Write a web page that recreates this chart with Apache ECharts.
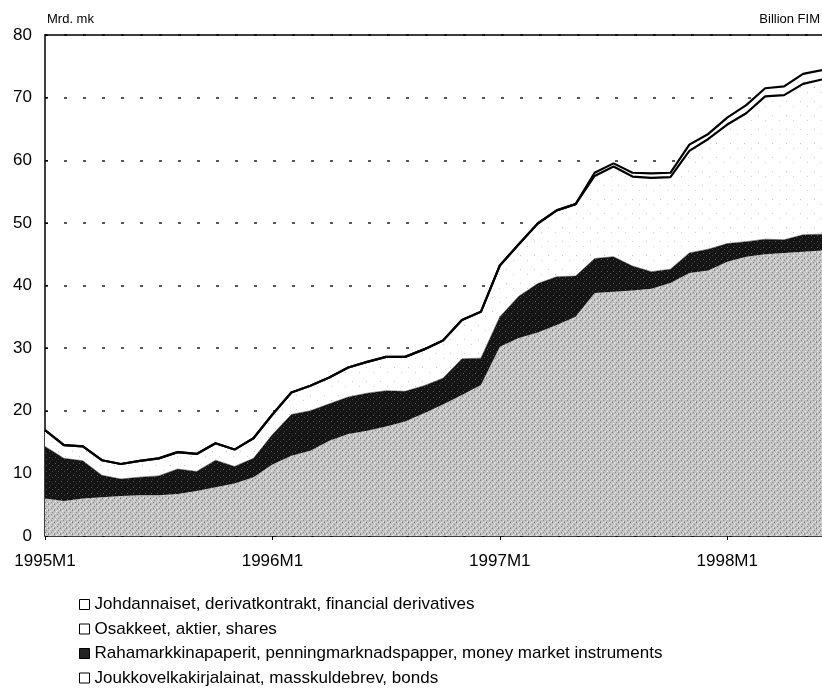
<!DOCTYPE html>
<html>
<head>
<meta charset="utf-8">
<script src="https://cdn.jsdelivr.net/npm/echarts@6/dist/echarts.min.js"></script>
<style>
html, body { margin: 0; padding: 0; background: #fff; }
#chart { width: 822px; height: 688px; }
</style>
</head>
<body>
<div id="chart"></div>
<script>
// monthly categories 1995M1 .. 1998M6
const months = [];
for (let y = 1995; y <= 1998; y++) {
  for (let m = 1; m <= 12; m++) months.push(y + 'M' + m);
}
months.length = 42;

// Mrd. mk, stacked from the bottom
const bonds = [
  6.0, 5.6, 6.0, 6.2, 6.4, 6.5, 6.5, 6.7, 7.2, 7.8, 8.4, 9.4,
  11.4, 12.8, 13.6, 15.2, 16.3, 16.8, 17.5, 18.3, 19.6, 21.0, 22.5, 24.1,
  30.2, 31.6, 32.5, 33.7, 35.0, 38.8, 39.0, 39.2, 39.5, 40.4, 42.0, 42.4,
  43.8, 44.6, 45.0, 45.2, 45.4, 45.6
];
const moneyMarket = [
  8.3, 6.8, 6.0, 3.5, 2.7, 2.9, 3.1, 4.0, 3.1, 4.3, 2.7, 3.0,
  4.8, 6.6, 6.4, 5.9, 5.9, 6.0, 5.7, 4.8, 4.4, 4.2, 5.8, 4.3,
  4.8, 6.7, 7.8, 7.7, 6.5, 5.5, 5.6, 3.9, 2.7, 2.2, 3.2, 3.4,
  2.9, 2.4, 2.4, 2.1, 2.7, 2.6
];
const shares = [
  2.6, 2.1, 2.3, 2.4, 2.4, 2.6, 2.8, 2.7, 2.8, 2.7, 2.7, 3.2,
  3.2, 3.5, 4.0, 4.2, 4.7, 5.0, 5.4, 5.5, 5.8, 6.0, 6.2, 7.4,
  8.2, 8.3, 9.6, 10.6, 11.5, 13.2, 14.4, 14.3, 15.0, 14.7, 16.3, 17.6,
  19.0, 20.5, 22.8, 23.1, 24.1, 24.7
];
const derivatives = [
  0, 0, 0, 0, 0, 0, 0, 0, 0, 0, 0, 0,
  0, 0, 0, 0, 0, 0, 0, 0, 0, 0, 0, 0,
  0, 0, 0, 0, 0, 0.5, 0.5, 0.6, 0.7, 0.7, 1.0, 0.8,
  1.1, 1.3, 1.3, 1.4, 1.6, 1.5
];

const yTicks = [0, 10, 20, 30, 40, 50, 60, 70, 80];

const N_DER = 'Johdannaiset, derivatkontrakt, financial derivatives';
const N_SHA = 'Osakkeet, aktier, shares';
const N_MM = 'Rahamarkkinapaperit, penningmarknadspapper, money market instruments';
const N_BON = 'Joukkovelkakirjalainat, masskuldebrev, bonds';

// small stipple tiles to imitate the printed screens
function tile(base, dots, size) {
  const c = document.createElement('canvas');
  c.width = c.height = size;
  const g = c.getContext('2d');
  g.fillStyle = base;
  g.fillRect(0, 0, size, size);
  dots.forEach(d => { g.fillStyle = d[2]; g.fillRect(d[0], d[1], 1, 1); });
  return { image: c, repeat: 'repeat' };
}
const grayFill = tile('#c2c2c2', [
  [0, 0, '#7a7a7a'], [2, 1, '#e8e8e8'], [4, 2, '#8c8c8c'], [1, 3, '#f0f0f0'],
  [3, 4, '#888'], [5, 5, '#eee'], [0, 5, '#999'], [3, 0, '#ddd']
], 6);
const blackFill = tile('#141414', [[1, 1, '#5a5a5a'], [4, 3, '#444'], [2, 5, '#333']], 6);
const lightFill = tile('#ffffff', [[2, 3, '#c8c8c8'], [9, 8, '#d0d0d0']], 14);

const font = 'Liberation Sans, Arial, sans-serif';
const whiteBox = { color: '#fff', borderColor: '#000', borderWidth: 1 };

const chart = echarts.init(document.getElementById('chart'));
chart.setOption({
  animation: false,
  backgroundColor: '#fff',
  textStyle: { fontFamily: font },
  grid: { left: 45, right: -8, top: 35, bottom: 152 },
  graphic: [
    { type: 'text', left: 47, top: 13, style: { text: 'Mrd. mk', fontSize: 13, fill: '#000', fontFamily: font } },
    { type: 'text', right: 2, top: 13, style: { text: 'Billion FIM', fontSize: 13, fill: '#000', fontFamily: font } }
  ],
  legend: {
    orient: 'vertical',
    left: 74,
    top: 591,
    height: 120,
    itemGap: 7.5,
    itemWidth: 10,
    itemHeight: 10,
    icon: 'rect',
    textStyle: { fontSize: 17, color: '#000', fontFamily: font },
    data: [
      { name: N_DER, itemStyle: whiteBox },
      { name: N_SHA, itemStyle: whiteBox },
      { name: N_MM, itemStyle: { color: '#222', borderColor: '#000', borderWidth: 1 } },
      { name: N_BON, itemStyle: whiteBox }
    ]
  },
  xAxis: [
    {
      type: 'category',
      data: months,
      boundaryGap: false,
      axisLine: { lineStyle: { color: '#000', width: 1.5 } },
      axisTick: { interval: 11, length: 4, lineStyle: { color: '#000' } },
      axisLabel: { interval: 11, fontSize: 17, color: '#000', margin: 17 },
      splitLine: { show: false }
    },
    {
      type: 'category',
      position: 'top',
      data: months,
      boundaryGap: false,
      axisLine: { lineStyle: { color: '#000', width: 1.5 } },
      axisTick: { show: false },
      axisLabel: { show: false }
    }
  ],
  yAxis: {
    type: 'value',
    min: yTicks[0],
    max: yTicks[yTicks.length - 1],
    interval: 10,
    axisLine: { show: true, lineStyle: { color: '#000', width: 1.5 } },
    axisTick: { show: true, inside: true, length: 3, lineStyle: { color: '#000' } },
    axisLabel: { fontSize: 17, color: '#000', margin: 13 },
    splitLine: { lineStyle: { type: [3, 16], color: '#222', width: 1.5 } }
  },
  series: [
    {
      name: N_BON, type: 'line', stack: 'total', data: bonds,
      showSymbol: false, lineStyle: { width: 0 },
      itemStyle: { color: '#fff' },
      areaStyle: { color: grayFill, opacity: 1 }
    },
    {
      name: N_MM, type: 'line', stack: 'total', data: moneyMarket,
      showSymbol: false, lineStyle: { width: 0.5, color: '#111' },
      itemStyle: { color: '#222' },
      areaStyle: { color: blackFill, opacity: 1 }
    },
    {
      name: N_SHA, type: 'line', stack: 'total', data: shares,
      showSymbol: false, lineStyle: { width: 2.2, color: '#000' },
      itemStyle: { color: '#fff' },
      areaStyle: { color: lightFill, opacity: 1 }
    },
    {
      name: N_DER, type: 'line', stack: 'total', data: derivatives,
      showSymbol: false, lineStyle: { width: 2.2, color: '#000' },
      itemStyle: { color: '#fff' },
      areaStyle: { color: '#fff', opacity: 1 }
    }
  ]
});
</script>
</body>
</html>
